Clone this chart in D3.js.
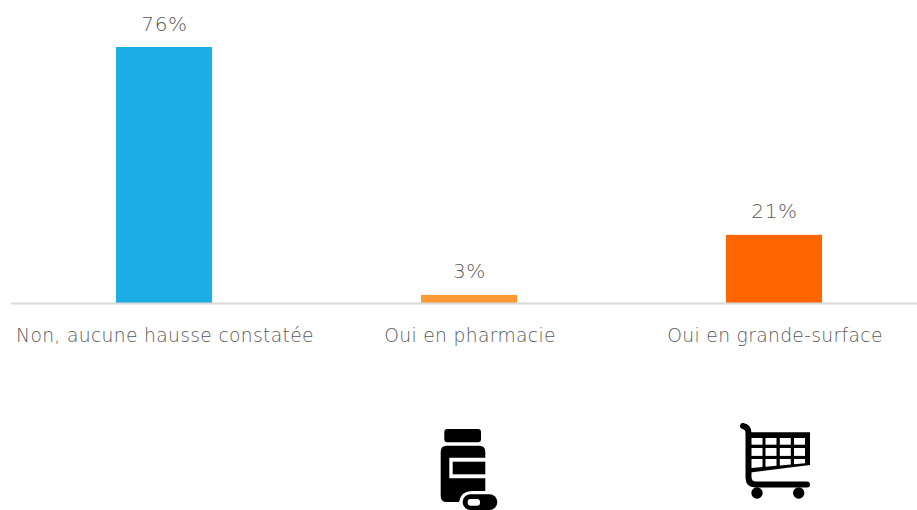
<!DOCTYPE html>
<html><head><meta charset="utf-8">
<script src="https://cdn.jsdelivr.net/npm/d3@7/dist/d3.min.js"></script>
<style>html,body{margin:0;padding:0;background:#fff}svg{display:block}
text{font-family:"DejaVu Sans",sans-serif;font-weight:200;fill:#595959}
.cat{font-size:18.7px;letter-spacing:0.34px}.val{font-size:20px;letter-spacing:0.6px}</style>
</head><body><script>
const categories = ["Non, aucune hausse constatée","Oui en pharmacie","Oui en grande-surface"];
const values = [75.9, 2.4, 20.2];
const valueLabels = ["76%","3%","21%"];
const colors = ["#1CADE4","#FF9933","#FF6600"];
const W=917,H=510;
const svg=d3.select("body").append("svg").attr("width",W).attr("height",H);
const x=d3.scaleBand().domain(categories).range([11.5,926.5]).paddingInner(0.685).paddingOuter(0.3425);
const y=d3.scaleLinear().domain([0,75.9]).range([303,47]);
svg.selectAll("rect.bar").data(categories).join("rect").attr("class","bar")
 .attr("x",d=>x(d)).attr("width",x.bandwidth())
 .attr("y",(d,i)=>y(values[i])).attr("height",(d,i)=>y(0)-y(values[i]))
 .attr("fill",(d,i)=>colors[i]);
svg.append("line").attr("x1",11).attr("x2",917).attr("y1",303.5).attr("y2",303.5).attr("stroke","#D9D9D9").attr("stroke-width",2);
svg.selectAll("text.val").data(categories).join("text").attr("class","val")
 .attr("x",d=>x(d)+x.bandwidth()/2+0.5).attr("y",(d,i)=>y(values[i])-16.5)
 .attr("text-anchor","middle").text((d,i)=>valueLabels[i]);
svg.selectAll("text.cat").data(categories).join("text").attr("class","cat")
 .attr("x",d=>x(d)+x.bandwidth()/2+1).attr("y",342)
 .attr("text-anchor","middle").text(d=>d);
// pill-bottle icon
const b=svg.append("g").attr("transform","translate(420,415)");
b.append("rect").attr("x",24.3).attr("y",14).attr("width",36.7).attr("height",13.3).attr("rx",3);
b.append("path")
 .attr("d","M26.7 30.7H59.3Q65.3 30.7 65.3 37V42.7H29.3V63.3H65.3V76H52Q41 76 39 87H26.7Q20.7 87 20.7 81V37Q20.7 30.7 26.7 30.7Z");
b.append("rect").attr("x",32.7).attr("y",46.7).attr("width",32.6).attr("height",12.6);
b.append("rect").attr("x",42.7).attr("y",79.3).attr("width",34.6).attr("height",15.7).attr("rx",7.8);
b.append("rect").attr("x",47.7).attr("y",84).attr("width",12.3).attr("height",6.7).attr("rx",3).attr("fill","#fff");
// cart icon
const c=svg.append("g").attr("transform","translate(725,415)");
c.append("path").attr("fill","none").attr("stroke","#000").attr("stroke-width",6).attr("stroke-linecap","round").attr("stroke-linejoin","round")
 .attr("d","M18 11Q23.5 12 23.5 18V62Q23.5 69.5 31 69.5H82");
c.append("path").attr("d","M23.5 17.3H85V50L23.5 57.7Z");
const cellXs=[26.5,40.5,54.8,69], cellW=11;
[[23,29.7],[33,40.9]].forEach(([t,bt])=>cellXs.forEach(cx=>{
  c.append("rect").attr("x",cx).attr("y",t).attr("width",cellW).attr("height",bt-t).attr("fill","#fff");
}));
const yb=v=>52.9-(v-26.7)*(4.6/53.3);
cellXs.forEach(cx=>{
  c.append("path").attr("fill","#fff").attr("d",`M${cx} 44L${cx+cellW} 44L${cx+cellW} ${yb(cx+cellW)}L${cx} ${yb(cx)}Z`);
});
c.append("circle").attr("cx",32).attr("cy",78).attr("r",5.7);
c.append("circle").attr("cx",73.7).attr("cy",78).attr("r",5.7);
</script></body></html>
